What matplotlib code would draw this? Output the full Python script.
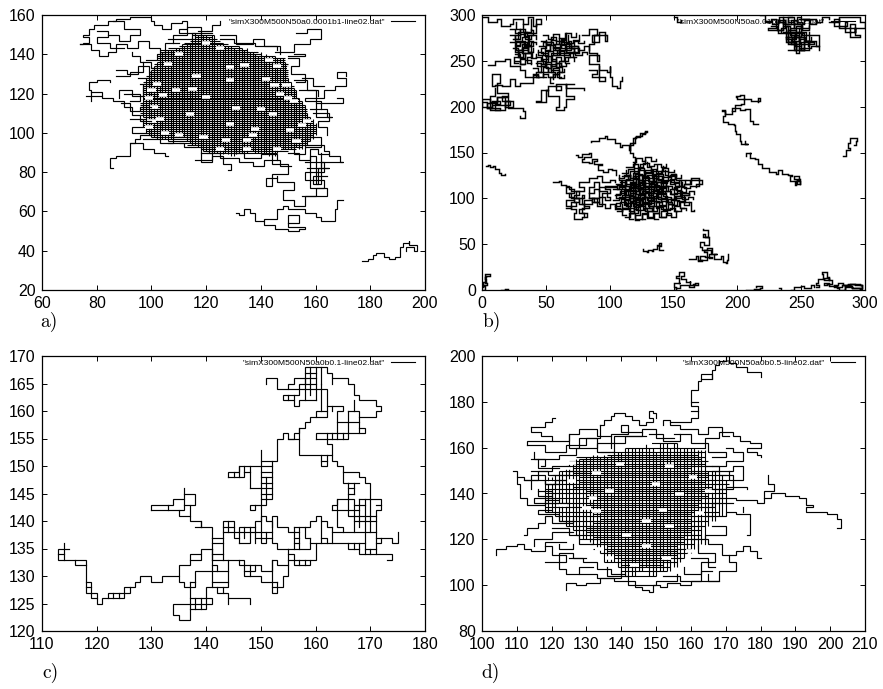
import matplotlib
matplotlib.use('Agg')
import matplotlib.pyplot as plt

plt.rcParams['font.family'] = ['Liberation Sans', 'DejaVu Sans']

# ---- panel a ----
a_label = '"simX300M500N50a0.0001b1-line02.dat"'
a_xticks = [60, 80, 100, 120, 140, 160, 180, 200]
a_yticks = [20, 40, 60, 80, 100, 120, 140, 160]
# lattice core: column x, lowest y, highest y
a_col_x = list(range(97, 161))
a_col_lo = [108, 100, 99, 98, 98, 97, 97, 97, 97, 96, 97, 98, 98, 98, 98, 98, 96, 95, 94, 94, 93, 92, 91, 91, 90, 90, 90, 90,
            89, 89, 90, 89, 88, 88, 89, 90, 90, 90, 90, 91, 91, 90, 90, 90, 90, 89, 88, 88, 88, 90, 91, 92, 92, 92, 92, 92,
            93, 92, 92, 93, 94, 96, 97, 99]
a_col_hi = [125, 128, 130, 132, 134, 136, 140, 141, 142, 142, 142, 142, 143, 143, 145, 144, 145, 146, 149, 149, 150, 150, 150,
            150, 149, 150, 150, 146, 146, 146, 144, 144, 144, 143, 142, 144, 143, 142, 143, 141, 141, 140, 139, 141, 139,
            140, 139, 139, 139, 138, 138, 138, 136, 128, 126, 123, 122, 118, 116, 114, 110, 108, 107, 105]
a_row_y = [150, 148, 146, 144, 142, 140, 138, 136, 134, 132, 130, 128, 126, 124, 122, 120, 118, 116, 114, 112, 110, 108, 106,
           104, 102, 100, 98, 96, 94, 92, 90,
           149, 147, 145, 143, 141, 139, 137, 135, 133, 131, 129, 127, 125, 123, 121, 119, 117, 115, 113, 111, 109, 107, 105,
           103, 101, 99, 97, 95, 93, 91]
a_row_lo = [115, 115, 112, 110, 103, 103, 102, 102, 101, 100, 99, 98, 97, 97, 97, 97, 97, 97, 96, 96, 96, 97, 97, 97, 98, 98,
            100, 106, 113, 118, 120,
            116, 114, 111, 106, 103, 102, 102, 101, 100, 99, 98, 98, 97, 97, 97, 97, 97, 96, 96, 96, 96, 97, 97, 97, 98, 99,
            103, 110, 116, 119]
a_row_hi = [123, 124, 126, 132, 135, 140, 149, 149, 150, 150, 150, 150, 151, 152, 153, 153, 154, 155, 156, 157, 157, 158, 159,
            160, 160, 160, 159, 158, 157, 153, 146,
            122, 125, 128, 133, 139, 145, 149, 150, 150, 150, 150, 150, 151, 152, 153, 153, 154, 155, 156, 157, 157, 158, 159,
            160, 160, 159, 158, 157, 155, 150]
a_hole_x = [116.5, 115, 128.7, 128.7, 134, 142, 145, 149.4, 131, 140, 144.5, 128.7, 137.8, 137, 134.8, 150.6, 114, 104.3, 119,
            127.4, 120, 109, 99, 101, 100, 99, 103, 105, 102, 100, 110, 125, 135, 146, 153, 155, 157, 152, 150, 147, 151, 146,
            143, 110, 106, 120, 125]
a_hole_y = [128.8, 122.5, 126.8, 133.6, 134.4, 127.6, 124.2, 124.2, 112.9, 111.9, 109.8, 104.4, 102.2, 98.8, 96.3, 101.4, 109.8,
            119.2, 98, 96.3, 118.3, 121.7, 118, 113, 106, 103, 107, 100, 125, 122, 99, 92, 92, 92, 96, 104, 106, 116, 118, 120,
            133, 134, 137, 140, 135, 146, 143]
a_paths = [
    [(177, 35), (179, 35), (179, 36), (181, 36), (181, 38), (182, 38), (182, 39), (185, 39), (185, 37), (187, 37), (187, 36),
     (189, 36), (189, 37), (191, 37), (191, 42), (192, 42), (192, 44), (194, 44), (194, 45), (194, 43), (197, 43), (197, 40),
     (196, 40), (196, 42), (193, 42), (193, 40)],
    [(131, 59), (132, 59), (132, 58), (134, 58), (134, 61), (136, 61), (136, 59), (138, 59), (138, 55), (141, 55), (141, 56),
     (146, 56), (146, 61), (148, 61), (148, 63), (150, 63), (150, 61), (156, 61), (156, 59), (160, 59), (160, 57), (162, 57),
     (162, 55), (167, 55), (167, 61), (168, 61), (168, 66), (170, 66)],
    [(141, 55), (141, 53), (145, 53), (145, 51), (150, 51), (150, 50), (154, 50), (154, 51), (156, 51), (156, 52), (150, 52),
     (150, 58), (154, 58), (154, 54), (150, 54)],
    [(74, 145), (75, 145), (75, 146), (77, 146), (77, 149), (75, 149), (75, 150), (77, 150), (77, 153), (79, 153), (79, 155),
     (84, 155), (84, 157), (87, 157), (87, 158), (92, 158), (92, 159), (100, 159), (100, 157), (101, 157), (101, 155), (104, 155),
     (104, 153), (107, 153), (107, 156), (111, 156), (111, 157), (113, 157), (113, 153), (110, 153), (110, 151), (116, 151),
     (116, 148)],
    [(74, 145), (78, 145), (78, 142), (81, 142), (81, 139), (84, 139), (84, 141), (87, 141), (87, 145), (91, 145), (91, 143),
     (95, 143), (95, 147), (99, 147), (99, 143), (103, 143), (103, 140)],
    [(84, 150), (88, 150), (88, 147), (92, 147), (92, 150), (96, 150), (96, 153), (90, 153), (90, 157), (86, 157)],
    [(80, 152), (84, 152), (84, 149), (80, 149), (80, 146), (85, 146), (85, 143), (90, 143)],
    [(93, 141), (93, 139), (96, 139), (96, 136), (100, 136), (100, 133), (102, 133)],
    [(87, 132), (91, 132), (91, 130), (95, 130), (95, 134), (99, 134), (99, 130), (103, 130)],
    [(76, 119), (78, 119), (78, 122), (77, 122), (77, 126), (80, 126), (80, 127), (85, 127), (85, 126)],
    [(78, 116), (78, 119), (82, 119), (82, 118), (86, 118), (86, 116), (90, 116), (90, 113), (93, 113), (93, 109), (96, 109),
     (96, 106), (100, 106)],
    [(78, 121), (82, 121), (82, 119)],
    [(88, 118), (88, 122), (93, 122), (93, 119), (97, 119), (97, 124)],
    [(89, 115), (92, 115), (92, 111), (96, 111), (96, 113), (100, 113)],
    [(86, 82), (85, 82), (85, 87), (87, 87), (87, 88), (92, 88), (92, 95), (94, 95), (94, 97), (96, 97), (96, 99), (100, 99)],
    [(92, 95), (97, 95), (97, 92), (101, 92), (101, 90), (105, 90), (105, 88), (106, 88)],
    [(97, 97), (103, 97), (103, 95), (108, 95), (108, 98), (112, 98)],
    [(118, 92), (118, 85), (122, 85), (122, 88), (126, 88), (126, 84), (129, 84), (129, 81), (128, 81)],
    [(122, 90), (125, 90), (125, 87), (132, 87), (132, 85), (137, 85), (137, 83), (141, 83), (141, 86), (147, 86), (147, 83),
     (151, 83)],
    [(144, 92), (144, 84), (150, 84), (150, 79), (144, 79), (144, 73), (142, 73), (142, 77), (146, 77)],
    [(146, 78), (146, 75), (152, 75), (152, 71), (148, 71), (148, 66), (152, 66), (152, 63), (156, 63), (156, 68), (160, 68),
     (160, 72), (164, 72), (164, 68), (155, 68)],
    [(156, 85), (163, 85), (163, 80), (156, 80), (156, 76), (163, 76), (163, 72), (158, 72), (158, 88), (160, 88), (160, 74),
     (162, 74), (162, 90)],
    [(157, 82), (165, 82), (161, 82), (161, 74), (159, 74), (159, 78), (164, 78)],
    [(156, 94), (163, 94), (163, 91), (165, 91), (165, 88), (169, 88), (169, 85), (170, 85), (162, 85), (162, 83)],
    [(150, 90), (154, 90), (154, 86), (158, 86), (158, 92), (161, 92), (161, 89), (165, 89)],
    [(158, 112), (164, 112), (164, 108), (166, 108), (160, 108), (160, 118), (163, 118), (163, 122), (167, 122), (167, 124),
     (171, 124), (171, 128), (168, 128), (168, 131), (171, 131), (171, 129)],
    [(160, 115), (170, 115), (170, 118), (168, 118)],
    [(152, 127), (157, 127), (157, 122), (161, 122), (161, 119)],
    [(155, 128), (159, 128), (159, 124), (163, 124)],
    [(145, 141), (152, 141), (152, 145), (158, 145), (158, 148), (162, 148), (162, 153), (157, 153), (157, 151), (153, 151)],
    [(152, 140), (156, 140), (156, 139), (150, 139)],
    [(117, 152), (122, 152), (122, 155), (125, 155), (125, 157)],
    [(108, 146), (108, 150), (113, 150), (113, 154), (118, 154), (118, 148)],
    [(125, 150), (131, 150), (131, 145), (137, 145), (137, 148), (141, 148), (141, 144), (147, 144), (147, 140)],
    [(87, 129), (92, 129), (92, 131), (97, 131), (97, 136)],
    [(95, 128), (100, 128), (100, 125), (96, 125)],
    [(90, 120), (96, 120), (96, 116), (92, 116)],
    [(92, 107), (97, 107), (97, 103), (93, 103), (93, 100), (98, 100)],
    [(98, 137), (102, 137), (102, 140), (105, 140), (105, 146), (110, 146)],
    [(106, 148), (115, 148), (115, 151), (122, 151)],
    [(125, 148), (130, 148), (130, 146), (138, 146), (138, 144), (146, 144), (146, 142)],
    [(150, 138), (154, 138), (154, 134), (151, 134), (151, 130), (156, 130), (156, 126), (153, 126)],
    [(154, 122), (160, 122), (160, 118), (156, 118), (156, 116), (162, 116), (162, 112)],
    [(159, 110), (165, 110), (165, 106), (161, 106), (161, 103), (164, 103), (164, 99)],
    [(156, 98), (162, 98), (162, 93), (156, 93), (156, 89), (152, 89), (152, 92)],
    [(118, 90), (122, 90), (122, 86), (116, 86)],
    [(130, 90), (134, 90), (134, 87), (140, 87), (140, 89), (146, 89), (146, 86)],
    [(106, 95), (112, 95), (112, 93), (116, 93)],
]

# ---- panel b ----
b_label = '"simX300M500N50a0.01b0-line02.dat"'
b_xticks = [0, 50, 100, 150, 200, 250, 300]
b_yticks = [0, 50, 100, 150, 200, 250, 300]
b_paths = [
    [(3, 135), (5, 136), (6, 134), (9, 135), (10, 132), (13, 132), (13, 128), (15, 128), (15, 125), (18, 125), (18, 127)],
    [(126, 45), (126, 43), (129, 42), (130, 44), (133, 43), (134, 45), (137, 45), (137, 49), (139, 48), (139, 51), (140, 48),
     (139, 44), (142, 44)],
    [(162, 34), (168, 37), (169, 32), (172, 33), (171, 37), (175, 36), (176, 41), (174, 44), (179, 39), (180, 46), (176, 44),
     (172, 47), (171, 52), (174, 49), (178, 52), (178, 58), (173, 61), (175, 58), (177, 65), (173, 67)],
    [(169, 33), (176, 36), (180, 35), (178, 39), (184, 39), (182, 34), (187, 37), (189, 31), (191, 30), (192, 33), (193, 39)],
    [(150, 0), (152, 3), (150, 8), (155, 8), (154, 13), (152, 15), (154, 20), (157, 20), (158, 15), (156, 12), (160, 9), (163, 10),
     (163, 5), (165, 7), (167, 8), (169, 6), (166, 3), (162, 5), (158, 5), (155, 2), (152, 2)],
    [(0, 0), (2, 4), (1, 9), (3, 12), (2, 17), (5, 18), (6, 15), (3, 14), (2, 8), (4, 5), (1, 3)],
    [(15, 0), (18, 1), (20, 0)],
    [(207, 0), (213, 1), (218, 2), (219, 4), (215, 3)],
    [(233, 2), (234, 0)],
    [(242, 0), (244, 3), (250, 4), (252, 2), (258, 5), (260, 3)],
    [(262, 3), (264, 5), (262, 8), (263, 12), (268, 11), (272, 14), (270, 20), (266, 17), (267, 13), (272, 11), (274, 7), (270, 6),
     (268, 8), (272, 4), (278, 2), (280, 0), (284, 3), (290, 2), (296, 1), (298, 6), (292, 7), (287, 6), (283, 8), (279, 6),
     (276, 3), (282, 5), (288, 7), (296, 5), (298, 2), (290, 4), (284, 0)],
    [(216, 181), (212, 184), (210, 190), (210, 197), (206, 196), (202, 199), (199, 198), (196, 192), (190, 192), (190, 196),
     (188, 195), (190, 190), (189, 183), (193, 181), (197, 180), (198, 174), (199, 170), (202, 168), (202, 163), (203, 159),
     (208, 159), (206, 163)],
    [(196, 195), (198, 202), (203, 203), (205, 208), (200, 210), (199, 212), (202, 213), (205, 208), (211, 206), (216, 206),
     (218, 209), (216, 205)],
    [(207, 146), (207, 150), (211, 150), (210, 144), (214, 143), (216, 137), (219, 133), (223, 133), (225, 129), (230, 127),
     (232, 131), (235, 127), (240, 126), (243, 124), (241, 119), (245, 115), (246, 119), (249, 116), (247, 120), (248, 124),
     (244, 121), (249, 116)],
    [(283, 146), (285, 149), (285, 153), (288, 155), (287, 160), (288, 166), (292, 166), (294, 163), (293, 158), (291, 158)],
    # centre cluster wisps
    [(85, 161), (85, 163), (90, 163), (92, 166), (96, 168), (98, 165), (101, 165), (104, 160), (108, 156), (110, 158), (115, 153),
     (116, 160), (120, 162), (120, 167), (123, 167), (124, 171), (128, 172), (129, 174), (128, 170), (125, 168), (121, 166),
     (118, 158), (116, 150), (118, 145), (120, 138)],
    [(74, 147), (75, 145), (78, 148), (84, 149), (85, 145), (80, 143), (78, 140), (84, 139), (86, 143), (90, 141), (88, 137),
     (94, 136), (91, 131), (95, 129), (99, 132), (102, 131), (105, 126)],
    [(56, 118), (60, 119), (62, 115), (66, 114), (68, 110), (72, 106), (68, 102), (72, 98), (66, 92), (70, 88), (74, 84), (72, 78),
     (78, 80), (82, 84), (78, 90), (84, 92), (80, 98), (86, 96), (92, 94), (96, 90), (100, 94), (104, 88), (110, 86)],
    [(66, 90), (70, 96), (76, 100), (74, 108), (80, 112), (76, 118), (84, 122), (90, 124), (94, 118), (100, 120), (104, 118)],
    [(74, 100), (80, 104), (78, 94), (86, 100), (90, 92), (94, 106), (100, 110), (96, 114), (106, 112), (92, 100), (84, 106)],
    [(70, 92), (74, 96), (72, 104), (76, 108), (70, 112), (66, 106), (70, 100), (76, 94), (80, 88), (76, 84), (80, 80)],
    [(84, 100), (88, 96), (92, 102), (96, 98), (100, 102), (98, 108), (92, 110), (88, 106), (84, 112), (88, 118), (92, 114)],
    [(160, 120), (164, 122), (170, 120), (172, 116), (168, 114), (170, 120), (164, 116), (158, 114), (156, 106), (162, 104),
     (158, 96), (164, 92), (164, 86), (166, 87)],
    # centre cluster mesh, rows
    [(112, 80), (116, 84), (120, 78), (125, 83), (129, 79), (134, 84), (139, 80), (144, 84), (148, 80), (152, 85)],
    [(106, 86), (110, 90), (115, 86), (119, 91), (124, 87), (128, 90), (133, 86), (137, 91), (142, 87), (147, 90), (151, 86),
     (156, 90), (160, 87)],
    [(104, 92), (108, 96), (113, 92), (117, 97), (121, 93), (126, 96), (130, 92), (135, 97), (139, 93), (144, 96), (149, 93),
     (153, 97), (158, 93), (162, 96)],
    [(103, 98), (107, 102), (112, 98), (116, 103), (120, 99), (125, 102), (129, 98), (134, 103), (138, 99), (143, 102), (148, 98),
     (152, 103), (157, 99), (161, 102), (165, 99)],
    [(104, 104), (108, 108), (112, 104), (116, 109), (121, 105), (125, 108), (130, 104), (134, 109), (139, 105), (143, 108),
     (148, 105), (153, 108), (157, 104), (162, 108), (166, 105)],
    [(103, 110), (107, 114), (112, 110), (117, 115), (121, 111), (126, 114), (130, 110), (135, 115), (139, 111), (144, 114),
     (149, 110), (153, 114), (158, 111), (163, 114), (168, 112)],
    [(105, 116), (109, 120), (113, 116), (118, 121), (122, 117), (127, 120), (131, 116), (136, 121), (140, 117), (145, 120),
     (150, 117), (154, 120), (159, 116), (163, 119)],
    [(107, 122), (111, 126), (116, 122), (120, 127), (125, 123), (129, 126), (133, 122), (138, 127), (142, 123), (147, 126),
     (151, 122), (156, 125)],
    [(110, 128), (114, 132), (119, 128), (123, 133), (127, 129), (132, 132), (136, 128), (141, 133), (146, 129), (150, 131)],
    [(113, 134), (118, 138), (122, 134), (126, 139), (131, 135), (135, 138), (140, 134), (144, 137)],
    [(118, 140), (121, 144), (125, 141), (128, 145), (132, 141), (136, 143)],
    # centre cluster mesh, columns
    [(108, 90), (105, 95), (109, 100), (105, 105), (109, 110), (106, 115), (110, 120), (107, 125)],
    [(113, 82), (110, 88), (114, 93), (111, 98), (115, 104), (111, 109), (115, 114), (112, 120), (116, 125), (113, 131)],
    [(118, 78), (115, 84), (119, 89), (116, 95), (120, 100), (116, 106), (120, 111), (117, 117), (121, 122), (118, 128), (122, 133),
     (119, 139)],
    [(123, 76), (120, 82), (124, 87), (121, 93), (125, 98), (122, 104), (126, 110), (122, 115), (126, 120), (123, 126), (127, 131),
     (124, 137), (128, 142)],
    [(128, 78), (125, 84), (129, 90), (126, 95), (130, 101), (127, 106), (131, 112), (127, 117), (131, 123), (128, 128), (132, 134),
     (129, 140)],
    [(133, 80), (130, 86), (134, 92), (131, 97), (135, 102), (132, 108), (136, 114), (132, 119), (136, 125), (133, 130), (137, 136)],
    [(138, 78), (135, 84), (139, 90), (136, 96), (140, 101), (137, 107), (141, 112), (137, 118), (141, 124), (138, 130), (142, 135)],
    [(143, 80), (140, 86), (144, 92), (141, 97), (145, 103), (142, 108), (146, 114), (142, 119), (146, 125), (143, 131)],
    [(148, 82), (145, 88), (149, 94), (146, 99), (150, 105), (147, 110), (151, 116), (147, 121), (151, 127)],
    [(153, 86), (150, 92), (154, 98), (151, 103), (155, 109), (152, 114), (156, 120), (152, 125)],
    [(158, 90), (155, 96), (159, 102), (156, 107), (160, 112), (157, 118)],
    # denser middle of the centre cluster
    [(108, 100), (112, 95), (116, 100), (120, 96), (124, 100), (128, 95), (132, 100), (136, 96), (140, 100), (144, 96), (148, 100)],
    [(108, 106), (112, 102), (116, 106), (120, 102), (124, 106), (128, 101), (132, 106), (136, 102), (140, 106), (144, 102)],
    [(108, 112), (112, 108), (116, 112), (120, 108), (124, 112), (128, 107), (132, 112), (136, 108), (140, 112), (144, 108)],
    [(108, 118), (112, 114), (116, 118), (120, 114), (124, 118), (128, 113), (132, 118), (136, 114), (140, 118), (144, 114)],
    [(110, 124), (114, 120), (118, 124), (122, 120), (126, 124), (130, 119), (134, 124), (138, 120), (142, 124)],
    [(112, 94), (114, 99), (110, 104), (113, 110), (110, 115), (113, 121), (116, 126)],
    [(122, 88), (119, 94), (123, 100), (120, 105), (123, 111), (119, 116), (123, 122), (120, 128)],
    [(126, 88), (128, 94), (124, 99), (128, 105), (124, 110), (128, 116), (125, 122), (128, 128)],
    [(134, 90), (131, 95), (135, 100), (131, 106), (135, 112), (131, 117), (135, 123)],
    [(120, 92), (118, 98), (122, 102), (118, 108), (122, 113), (118, 118), (121, 124)],
    [(112, 124), (116, 130), (122, 126), (128, 131), (134, 127), (140, 130), (146, 124), (152, 127), (148, 118), (154, 112),
     (150, 106), (156, 100), (150, 94), (146, 88), (140, 92), (134, 86), (128, 92), (122, 84), (116, 90), (110, 94)],
    [(116, 96), (118, 104), (114, 108), (118, 114), (124, 110), (130, 114), (136, 110), (142, 106), (138, 100), (132, 94),
     (126, 98), (120, 94), (124, 104), (128, 110), (122, 118), (128, 122), (134, 118), (140, 114), (144, 120), (138, 124)],
    # upper left clusters, rows then columns
    [(48, 278), (52, 274), (56, 279), (60, 275), (65, 280), (70, 276), (74, 280)],
    [(46, 272), (50, 268), (54, 273), (58, 268), (62, 273), (66, 269), (71, 273), (75, 269), (80, 272)],
    [(45, 266), (49, 262), (53, 267), (57, 262), (61, 267), (66, 262), (70, 266), (75, 262), (80, 266), (84, 262)],
    [(44, 260), (48, 256), (52, 261), (56, 256), (60, 261), (64, 256), (68, 260), (73, 256), (78, 260), (82, 257)],
    [(42, 254), (46, 250), (50, 255), (54, 250), (58, 254), (62, 250), (67, 254), (72, 250)],
    [(42, 248), (46, 244), (50, 249), (54, 244), (58, 248), (62, 244), (66, 247)],
    [(40, 242), (44, 238), (48, 243), (52, 238), (56, 242), (60, 238), (64, 241)],
    [(40, 236), (44, 232), (48, 236), (52, 232), (56, 236), (60, 231), (64, 234)],
    [(50, 232), (48, 238), (52, 243), (49, 249), (52, 255), (49, 261), (53, 267), (50, 273)],
    [(56, 226), (53, 232), (57, 238), (54, 244), (58, 250), (55, 256), (59, 262), (56, 268), (60, 275)],
    [(62, 232), (59, 238), (63, 244), (60, 250), (64, 256), (61, 262), (65, 268), (62, 274), (66, 280)],
    [(68, 248), (65, 254), (69, 260), (66, 266), (70, 272), (67, 278)],
    [(74, 254), (71, 260), (75, 266), (72, 272), (76, 278)],
    [(45, 232), (42, 238), (46, 244), (43, 250), (47, 256), (44, 262)],
    [(46, 246), (50, 242), (54, 247), (58, 243), (62, 248), (58, 252), (54, 258), (60, 264), (66, 258), (72, 264), (68, 270),
     (62, 265), (56, 270), (50, 264), (46, 258), (52, 252), (48, 246), (54, 240), (60, 236), (56, 230)],
    [(56, 264), (60, 258), (66, 264), (72, 258), (76, 264), (70, 268), (64, 272), (58, 276), (54, 270), (48, 266)],
    [(22, 285), (26, 280), (30, 285), (34, 281), (38, 285)],
    [(22, 278), (26, 274), (30, 279), (34, 274), (38, 278), (42, 274)],
    [(22, 271), (26, 267), (30, 272), (34, 267), (38, 271), (42, 268)],
    [(24, 264), (28, 260), (32, 265), (36, 260), (40, 264)],
    [(26, 257), (30, 253), (34, 258), (38, 253), (42, 257)],
    [(26, 250), (30, 247), (34, 251), (38, 246)],
    [(28, 248), (25, 254), (29, 260), (26, 266), (30, 272), (26, 278), (30, 285), (27, 292)],
    [(33, 246), (30, 252), (34, 258), (31, 264), (35, 270), (31, 276), (35, 282), (32, 290)],
    [(38, 248), (35, 254), (39, 260), (36, 266), (40, 272), (36, 278), (40, 284), (38, 296)],
    [(24, 274), (28, 282), (33, 277), (37, 268), (31, 262), (27, 270), (33, 266), (38, 258), (32, 254), (28, 262), (36, 274)],
    [(0, 298), (5, 292), (12, 296), (15, 288), (22, 290), (24, 296), (32, 290), (36, 298), (40, 288), (42, 296), (46, 290),
     (42, 280), (34, 280)],
    [(78, 278), (84, 285), (90, 278), (86, 270), (92, 282), (96, 272), (98, 278), (88, 268), (84, 258), (90, 250), (92, 256),
     (84, 246), (92, 240), (98, 238), (100, 244), (100, 232), (102, 222), (106, 220), (108, 228), (110, 232)],
    [(84, 240), (90, 236), (86, 232), (92, 228), (96, 232), (92, 244)],
    [(72, 225), (66, 212), (72, 208), (66, 200), (64, 196), (58, 200), (60, 212), (52, 218), (50, 205), (42, 206), (46, 218),
     (52, 222), (62, 218), (58, 225), (66, 220), (80, 218)],
    [(5, 245), (10, 250), (18, 252), (22, 244), (30, 240), (34, 232), (44, 234), (40, 226), (30, 222), (26, 230), (22, 222),
     (16, 224), (10, 222), (8, 236), (12, 236), (14, 226), (12, 215), (20, 212), (16, 206), (22, 202), (8, 200), (0, 208), (6, 196),
     (14, 198), (4, 204), (12, 210), (20, 198), (28, 198), (32, 195), (34, 188), (30, 190)],
    [(0, 205), (4, 198), (8, 206), (14, 203), (10, 196), (18, 206), (24, 200), (18, 210), (12, 205), (6, 212), (10, 220)],
    # top right cluster
    [(150, 298), (153, 292), (156, 295)],
    [(218, 300), (222, 292), (226, 296), (230, 286), (224, 284), (236, 292), (232, 280), (240, 288), (238, 274), (246, 284),
     (240, 268), (248, 278), (244, 262), (252, 272), (256, 262), (250, 268), (260, 270), (256, 278), (264, 266), (262, 272),
     (254, 282), (242, 276), (250, 290), (236, 298), (244, 286), (256, 296), (248, 296), (262, 292), (266, 298), (272, 296)],
    [(240, 262), (246, 270), (240, 280), (248, 262), (252, 276), (238, 270), (246, 258), (248, 264), (258, 266), (264, 262)],
    [(272, 292), (280, 296), (276, 288), (286, 292), (284, 282), (292, 290), (288, 276), (296, 278), (292, 286), (300, 292),
     (296, 298), (288, 298), (280, 286), (292, 282)],
    [(222, 294), (227, 290), (232, 295), (237, 290), (242, 295), (247, 290), (252, 295), (257, 290), (262, 295)],
    [(226, 288), (231, 284), (236, 288), (241, 284), (246, 288), (251, 284), (256, 288)],
    [(236, 282), (241, 278), (246, 282), (251, 278), (256, 282)],
    [(238, 276), (243, 272), (248, 276), (253, 272), (258, 276)],
    [(240, 270), (245, 266), (250, 270), (255, 266)],
    [(243, 298), (240, 292), (244, 286), (241, 280), (245, 274), (242, 268), (246, 262)],
    [(250, 298), (247, 292), (251, 286), (248, 280), (252, 274), (249, 268)],
    [(236, 298), (233, 292), (237, 286), (234, 282)],
]

# ---- panel c ----
c_label = '"simX300M500N50a0b0.1-line02.dat"'
c_xticks = [110, 120, 130, 140, 150, 160, 170, 180]
c_yticks = [120, 125, 130, 135, 140, 145, 150, 155, 160, 165, 170]
c_paths = [
    [(115, 135), (113, 135), (113, 133), (118, 133), (118, 127), (119, 127), (119, 126), (120, 126), (120, 125), (121, 125),
     (121, 126), (125, 126), (125, 128), (127, 128), (127, 129), (128, 129), (128, 130), (130, 130), (130, 129), (132, 129),
     (132, 130), (135, 130), (135, 132), (137, 132), (137, 134), (139, 134), (139, 135), (141, 135)],
    [(114, 136), (114, 133)], [(113, 134), (114, 134)], [(116, 133), (116, 132), (118, 132)],
    [(118, 129), (119, 129), (119, 127)], [(118, 128), (119, 128)], [(119, 127), (120, 127), (120, 126)],
    [(122, 126), (122, 127), (126, 127), (126, 128)], [(123, 126), (123, 127)], [(124, 126), (124, 127)],
    [(135, 130), (135, 129), (136, 129), (136, 128), (138, 128), (138, 131), (144, 131)],
    [(137, 129), (138, 129)],
    [(137, 129), (137, 122), (135, 122), (135, 123), (134, 123), (134, 125), (141, 125), (141, 126), (140, 126), (140, 128),
     (141, 128)],
    [(137, 124), (140, 124), (140, 126)], [(137, 126), (140, 126)], [(138, 124), (138, 126)], [(139, 124), (139, 126)],
    [(141, 137), (141, 128), (143, 128), (143, 127), (144, 127), (144, 126), (148, 126), (148, 125)],
    [(144, 126), (144, 125)], [(142, 128), (142, 127), (143, 127)],
    [(143, 128), (144, 128), (144, 133)], [(141, 129), (144, 129)], [(142, 131), (142, 132), (141, 132)],
    [(141, 137), (143, 137)], [(141, 136), (143, 136)], [(141, 134), (143, 134)], [(141, 133), (147, 133), (147, 130), (150, 130),
     (150, 129), (153, 129)],
    [(143, 133), (143, 140), (145, 140), (145, 137), (146, 137)], [(144, 138), (144, 140)], [(143, 139), (145, 139)],
    [(143, 138), (149, 138)], [(146, 136), (146, 139), (149, 139)], [(146, 136), (148, 136), (148, 139)], [(147, 137), (147, 139)],
    [(146, 133), (146, 132), (150, 132), (150, 131), (152, 131), (152, 133), (153, 133), (153, 132), (155, 132)],
    [(147, 131), (149, 131), (149, 132)], [(148, 130), (148, 132)],
    [(152, 133), (152, 127), (153, 127), (153, 129)], [(152, 128), (154, 128), (154, 130), (155, 130), (155, 135)],
    [(155, 134), (156, 134), (156, 132), (159, 132), (159, 133), (160, 133), (160, 136), (169, 136)],
    [(155, 133), (159, 133)], [(157, 132), (157, 133)], [(158, 132), (158, 133)],
    # upper arm
    [(150, 137), (150, 153)], [(150, 151), (153, 151), (153, 155), (154, 155), (154, 156), (155, 156), (155, 155), (156, 155),
     (156, 156), (157, 156), (157, 157), (158, 157), (158, 158), (159, 158), (159, 159), (160, 159), (160, 160), (162, 160),
     (162, 159), (160, 159)],
    [(155, 155), (157, 155)], [(157, 157), (157, 152), (163, 152), (163, 154), (162, 154), (162, 155)],
    [(152, 151), (152, 144), (151, 144), (151, 143), (148, 143), (148, 142), (149, 142), (149, 143)],
    [(150, 150), (152, 150)], [(150, 149), (152, 149)], [(150, 148), (152, 148)], [(150, 147), (152, 147)], [(150, 146), (152, 146)],
    [(150, 145), (152, 145)], [(150, 144), (151, 144)], [(151, 144), (151, 148)],
    [(144, 148), (147, 148), (147, 150)], [(144, 148), (144, 149), (146, 149), (146, 150), (150, 150)], [(145, 148), (145, 149)],
    [(146, 148), (146, 150)], [(148, 146), (148, 150)], [(147, 149), (148, 149)], [(148, 146), (150, 146)],
    # top
    [(151, 165), (151, 166), (153, 166), (153, 164), (155, 164), (155, 165), (156, 165), (156, 166), (158, 166), (158, 165),
     (157, 165), (157, 163), (155, 163), (154, 163), (154, 162), (156, 162), (156, 161), (157, 161), (157, 162), (160, 162)],
    [(155, 164), (162, 164), (162, 160)], [(155, 162), (155, 163)], [(156, 162), (156, 163)], [(158, 162), (158, 168), (162, 168),
     (162, 167), (163, 167), (163, 166), (166, 166), (166, 165), (167, 165), (167, 163), (168, 163), (168, 162), (171, 162),
     (171, 161), (172, 161), (172, 160), (171, 160), (171, 159), (168, 159)],
    [(159, 163), (159, 168)], [(160, 162), (160, 168)], [(158, 167), (160, 167)], [(158, 166), (160, 166)], [(158, 165), (160, 165)],
    [(161, 165), (161, 168)], [(161, 160), (161, 161), (161, 165)], [(163, 166), (163, 165)],
    [(162, 161), (165, 161), (165, 160), (164, 160), (164, 156)], [(163, 160), (163, 161)],
    [(166, 160), (168, 160), (168, 156), (166, 156), (166, 160)], [(164, 158), (168, 158)], [(168, 157), (169, 157), (169, 156),
     (168, 156)], [(167, 162), (167, 160)],
    [(160, 155), (160, 156), (166, 156)], [(160, 155), (166, 155), (166, 156)], [(162, 155), (162, 156)], [(163, 155), (163, 156)],
    [(164, 155), (164, 156)], [(165, 155), (165, 156)],
    [(161, 152), (161, 150), (162, 150), (162, 152)], [(161, 151), (162, 151)],
    [(163, 152), (163, 151), (164, 151), (164, 150), (165, 150), (165, 147), (166, 147)],
    [(165, 149), (168, 149), (168, 148), (169, 148), (169, 147), (170, 147), (170, 144)],
    [(166, 147), (168, 147)], [(166, 147), (166, 144)], [(167, 147), (167, 145)], [(166, 146), (167, 146)], [(166, 145), (167, 145)],
    # lower right block
    [(163, 142), (163, 143), (164, 143), (164, 144), (167, 144), (167, 138)], [(163, 142), (168, 142)], [(164, 144), (164, 139),
     (165, 139), (165, 138)], [(166, 144), (166, 141), (167, 141)], [(168, 144), (172, 144), (172, 142), (171, 142), (171, 134)],
    [(168, 144), (168, 139)], [(169, 144), (169, 134)], [(170, 144), (170, 141)], [(167, 143), (169, 143)], [(167, 141), (171, 141)],
    [(167, 140), (171, 140)], [(171, 143), (172, 143)], [(163, 138), (171, 138)], [(170, 141), (170, 138)], [(163, 139), (163, 136)],
    [(168, 136), (168, 134), (174, 134), (174, 133), (173, 133)], [(166, 136), (166, 135), (168, 135)], [(167, 136), (167, 135)],
    [(169, 135), (171, 135)], [(170, 134), (170, 135)], [(171, 137), (174, 137), (174, 136), (175, 136), (175, 138)],
    [(171, 136), (172, 136), (172, 137)],
    # middle row
    [(157, 139), (159, 139), (159, 140), (160, 140), (160, 141), (161, 141), (161, 140), (162, 140), (162, 139), (163, 139)],
    [(156, 139), (157, 139), (157, 135)], [(156, 139), (156, 135)], [(156, 138), (157, 138)], [(156, 137), (157, 137)],
    [(156, 136), (157, 136)], [(155, 135), (159, 135), (159, 137)], [(159, 136), (160, 136)], [(158, 139), (158, 137), (159, 137)],
    [(161, 140), (161, 136)], [(161, 137), (162, 137), (162, 136)],
    [(149, 138), (149, 140), (150, 140), (150, 141), (151, 141), (151, 140), (152, 140), (152, 136), (153, 136), (153, 135),
     (155, 135)],
    [(152, 139), (152, 141), (153, 141), (153, 139), (155, 139), (155, 138), (156, 138)],
    [(149, 136), (149, 138)], [(149, 137), (152, 137)], [(150, 137), (150, 136), (151, 136), (151, 138)], [(149, 138), (152, 138)],
    # left arm
    [(130, 142), (130, 143), (134, 143), (134, 144), (136, 144), (136, 146)], [(130, 142), (135, 142), (135, 141), (137, 141),
     (137, 140), (139, 140), (139, 139), (141, 139), (141, 137)],
    [(133, 142), (133, 143)], [(136, 144), (136, 142), (135, 142)], [(136, 145), (138, 145), (138, 143), (137, 143), (137, 141)],
    [(136, 143), (137, 143)], [(139, 140), (139, 139)], [(138, 139), (139, 139)],
    [(141, 135), (141, 133)], [(137, 133), (139, 133), (139, 134)],
]

# ---- panel d ----
d_label = '"simX300M500N50a0b0.5-line02.dat"'
d_xticks = [100, 110, 120, 130, 140, 150, 160, 170, 180, 190, 200, 210]
d_yticks = [80, 100, 120, 140, 160, 180, 200]
d_col_x = list(range(118, 171))
d_col_lo = [132, 132, 132, 130, 128, 128, 126, 126, 124, 122, 120, 120, 120, 119, 118, 116, 114, 110, 110, 110, 110, 108, 106,
            104, 104, 104, 104, 106, 106, 108, 104, 104, 104, 106, 106, 106, 106, 108, 108, 110, 112, 114, 114, 116, 116, 118,
            120, 126, 128, 128, 130, 130, 132]
d_col_hi = [146, 147, 147, 148, 150, 150, 152, 153, 153, 155, 155, 155, 156, 156, 157, 157, 156, 157, 156, 157, 158, 158, 158,
            160, 160, 160, 160, 160, 160, 162, 160, 160, 158, 162, 162, 162, 160, 162, 162, 160, 160, 160, 160, 160, 159, 159,
            159, 150, 150, 150, 148, 148, 146]
d_row_y = [162, 160, 158, 156, 154, 152, 150, 148, 146, 144, 142, 140, 138, 136, 134, 132, 130, 128, 126, 124, 122, 120, 118,
           116, 114, 112, 110, 108, 106, 104,
           157, 155, 153, 151, 149, 147, 145, 143, 141, 139, 137, 135, 133, 131, 129, 127, 125, 123, 121, 119, 117, 115, 113,
           111, 109]
d_row_lo = [147, 141, 134, 127, 125, 124, 122, 120, 118, 118, 118, 118, 118, 118, 118, 118, 121, 122, 124, 126, 127, 128, 131,
            132, 134, 135, 135, 139, 140, 141,
            136, 128, 126, 126, 126, 128, 128, 126, 130, 130, 132, 130, 132, 132, 134, 132, 130, 130, 132, 134, 136, 136, 138,
            140, 140]
d_row_hi = [156, 164, 164, 164, 165, 166, 168, 170, 171, 171, 170, 170, 169, 168, 167, 168, 166, 165, 164, 163, 163, 162, 161,
            160, 159, 158, 156, 154, 153, 150,
            162, 163, 164, 160, 165, 165, 164, 166, 165, 165, 163, 162, 162, 160, 160, 160, 160, 160, 158, 158, 156, 156, 156,
            154, 152]
d_hole_x = [125.7, 131.9, 132.9, 130, 125.7, 132.9, 139.6, 153.9, 147.7, 136.7, 152, 156.8, 147.2, 141.5, 153.9, 128, 147.2,
            136.7, 153, 143.9, 159.7, 162.5, 165.4, 160.6, 150, 133.8, 124, 119.4, 123.3, 121.4]
d_hole_y = [153.5, 138.2, 132.4, 133.8, 145.5, 149, 152.7, 152, 162.2, 141, 133, 139.6, 128, 122, 125.8, 117.8, 117, 112, 112,
            109, 115, 131.6, 141, 147, 144, 116, 151, 144.7, 135, 123.6]
d_paths = [
    [(114, 169), (118, 169), (118, 171), (120, 171), (120, 173), (121, 173)],
    [(114, 169), (114, 167), (117, 167), (117, 165), (120, 165), (120, 163), (125, 163), (125, 166), (128, 166), (128, 168),
     (133, 168), (133, 165), (137, 165)],
    [(113, 161), (113, 163), (120, 163)],
    [(113, 161), (118, 161), (118, 158), (124, 158), (124, 161), (130, 161), (130, 164), (134, 164), (134, 170)],
    [(134, 170), (135, 170), (135, 172), (137, 172), (137, 174), (138, 174), (138, 175), (141, 175), (141, 174), (143, 174),
     (143, 172), (145, 172), (145, 170), (147, 170), (147, 171), (149, 171), (149, 173), (148, 173), (148, 176), (149, 176),
     (149, 175), (150, 175), (150, 173)],
    [(115, 158), (115, 155), (118, 155), (118, 152), (117, 152)],
    [(109, 150), (110, 150), (110, 147), (112, 147), (112, 146), (116, 146), (116, 150), (120, 150), (120, 152), (125, 152)],
    [(110, 147), (110, 144), (111, 144), (111, 138), (113, 138), (113, 135), (118, 135), (118, 137), (122, 137)],
    [(114, 142), (114, 148), (118, 148), (118, 144), (122, 144)],
    [(104, 113), (104, 116), (107, 116), (107, 117), (110, 117), (110, 118), (112, 118), (112, 116), (114, 116), (114, 115),
     (118, 115), (118, 119), (124, 119)],
    [(112, 122), (113, 122), (113, 125), (116, 125), (116, 127), (118, 127), (118, 130), (120, 130), (120, 127), (126, 127),
     (126, 129)],
    [(115, 117), (115, 120), (120, 120), (120, 123), (126, 123)],
    [(118, 117), (120, 117), (120, 113), (124, 113), (124, 110), (122, 110), (122, 107), (124, 107), (124, 105), (128, 105),
     (128, 108), (132, 108)],
    [(124, 98), (124, 101), (127, 101), (127, 100), (130, 100), (130, 101), (134, 101), (134, 103), (138, 103), (138, 102),
     (144, 102), (144, 99), (146, 99), (146, 98), (148, 98), (148, 97), (149, 97), (149, 100), (151, 100), (151, 99), (153, 99),
     (153, 101), (157, 101), (157, 100), (160, 100), (160, 102), (168, 102)],
    [(128, 105), (133, 105), (133, 103), (140, 103), (140, 106)],
    [(152, 104), (157, 104), (157, 102), (163, 102), (163, 106), (166, 106)],
    [(160, 120), (165, 120), (165, 118), (169, 118), (169, 113), (173, 113), (173, 115), (175, 115), (175, 117), (177, 117),
     (177, 115), (179, 115), (179, 112), (180, 112)],
    [(171, 113), (171, 110), (173, 110), (173, 106), (168, 106), (168, 102), (165, 102), (165, 105)],
    [(160, 112), (165, 112), (165, 108), (167, 108)],
    [(164, 130), (170, 130), (170, 132), (173, 132), (173, 131), (177, 131), (177, 122), (176, 122)],
    [(175, 132), (175, 134)],
    [(166, 150), (172, 150), (172, 152), (175, 152), (175, 146), (171, 146), (171, 150)],
    [(170, 143), (176, 143), (176, 142)],
    [(168, 138), (173, 138), (173, 137), (179, 137), (179, 136), (181, 136), (181, 141), (184, 141), (184, 144), (182, 144),
     (182, 148)],
    [(181, 138), (183, 138), (183, 140), (187, 140), (187, 139), (191, 139), (191, 138), (193, 138), (193, 135), (195, 135),
     (195, 134), (193, 134), (193, 132), (199, 132), (199, 131), (202, 131), (202, 129), (203, 129), (203, 125), (202, 125)],
    [(164, 160), (164, 164), (168, 164), (168, 167), (172, 167), (172, 165), (174, 165), (174, 163), (177, 163), (177, 162),
     (180, 162), (180, 160), (176, 160), (176, 158), (179, 158), (179, 157), (180, 157), (180, 156)],
    [(170, 160), (172, 160), (172, 158), (175, 158), (175, 154), (170, 154), (170, 152), (166, 152)],
    [(152, 170), (152, 172), (154, 172), (154, 170), (157, 170), (157, 168), (162, 168), (162, 166), (165, 166), (165, 169),
     (169, 169), (169, 165), (171, 165)],
    [(154, 171), (160, 171), (160, 173), (162, 173), (162, 178), (160, 178), (160, 180), (162, 180)],
    [(160, 176), (162, 176)],
    [(160, 180), (160, 185), (162, 185), (162, 189), (163, 189), (163, 192), (166, 192), (166, 190), (166, 194), (167, 194),
     (167, 196), (168, 196), (168, 198), (170, 198), (170, 200), (171, 200), (171, 197), (173, 197), (173, 195), (176, 195),
     (176, 193), (180, 193), (180, 191)],
    [(163, 190), (166, 190)],
    [(125, 166), (125, 160), (128, 160), (128, 164), (133, 164), (133, 158), (138, 158), (138, 165), (146, 165), (146, 168),
     (150, 168), (150, 164), (155, 164)],
    [(114, 155), (116, 155), (116, 151), (122, 151)],
    [(116, 142), (116, 139), (120, 139)],
    [(118, 110), (122, 110), (122, 114), (126, 114), (126, 112), (130, 112)],
    [(114, 150), (119, 150), (119, 148), (125, 148), (125, 150), (130, 150)],
    [(112, 146), (118, 146), (118, 144), (121, 144), (121, 146), (124, 146)],
    [(116, 141), (120, 141), (120, 138), (115, 138), (115, 136), (125, 136)],
    [(116, 155), (122, 155), (122, 157), (127, 157), (127, 160), (133, 160), (133, 162), (141, 162), (141, 165), (147, 165)],
    [(120, 133), (116, 133), (116, 131), (122, 131), (122, 128), (126, 128)],
    [(120, 125), (125, 125), (125, 122), (128, 122), (128, 118), (132, 118)],
    [(122, 118), (122, 116), (126, 116), (126, 118)],
    [(125, 112), (129, 112), (129, 110), (133, 110), (133, 107), (137, 107), (137, 105), (141, 105)],
    [(136, 108), (136, 104), (142, 104), (142, 100), (150, 100), (150, 102), (156, 102), (156, 105)],
    [(158, 108), (158, 105), (163, 105), (163, 110), (167, 110), (167, 114), (162, 114), (162, 118)],
    [(166, 126), (170, 126), (170, 122), (164, 122), (164, 118)],
    [(166, 142), (172, 142), (172, 148), (168, 148), (168, 152), (164, 152)],
    [(172, 136), (166, 136), (166, 134)],
    [(166, 156), (170, 156), (170, 158), (165, 158), (165, 162), (160, 162), (160, 166), (155, 166)],
    [(148, 166), (152, 166), (152, 163), (157, 163), (157, 166)],
    [(137, 160), (137, 166), (142, 166), (142, 170), (140, 170), (140, 167), (146, 167)],
]

# ---- layout of the four panels, left/top/width/height in pixels ----
fig = plt.figure(figsize=(8.83, 6.89), dpi=100)


def make_ax(left, top, xlim, ylim, xticks, yticks, label):
    ax = fig.add_axes([left / 883, 1 - (top + 275) / 689, 383 / 883, 275 / 689])
    ax.set_xlim(xlim)
    ax.set_ylim(ylim)
    ax.set_xticks(xticks)
    ax.set_yticks(yticks)
    ax.tick_params(direction='in', length=3.5, width=0.7, top=True, right=True, labelsize=11.5, pad=4.5)
    for s in ax.spines.values():
        s.set_linewidth(0.9)
    ax.plot([], [], color='k', lw=0.8, label=label)
    leg = ax.legend(loc='upper right', bbox_to_anchor=(1 - 10 / 383, 1 - 3 / 275), frameon=False, fontsize=6.1, borderpad=0,
                    borderaxespad=0, handlelength=2.85, handletextpad=0.7, markerfirst=False)
    leg.set_zorder(1)
    return ax


def draw_paths(ax, paths, lw=0.85, **kw):
    for p in paths:
        xs = [q[0] for q in p]
        ys = [q[1] for q in p]
        ax.plot(xs, ys, color='k', lw=lw, solid_joinstyle='miter', zorder=4, **kw)


def draw_core(ax, col_x, col_lo, col_hi, row_y, row_lo, row_hi, hole_x, hole_y, hole_w):
    ax.vlines(col_x, col_lo, col_hi, color='k', lw=0.8, zorder=2)
    ax.hlines(row_y, row_lo, row_hi, color='k', lw=0.8, zorder=2)
    x0 = [x - hole_w / 2 for x in hole_x]
    x1 = [x + hole_w / 2 for x in hole_x]
    ax.hlines(hole_y, x0, x1, color='white', lw=2.6, zorder=3)


ax_a = make_ax(42, 15, (60, 200), (20, 160), a_xticks, a_yticks, a_label)
draw_core(ax_a, a_col_x, a_col_lo, a_col_hi, a_row_y, a_row_lo, a_row_hi, a_hole_x, a_hole_y, 3)
draw_paths(ax_a, a_paths)

ax_b = make_ax(482, 15, (0, 300), (0, 300), b_xticks, b_yticks, b_label)
draw_paths(ax_b, b_paths, lw=1.05, drawstyle='steps-post')

ax_c = make_ax(42, 356, (110, 180), (120, 170), c_xticks, c_yticks, c_label)
draw_paths(ax_c, c_paths)

ax_d = make_ax(482, 356, (100, 210), (80, 200), d_xticks, d_yticks, d_label)
draw_core(ax_d, d_col_x, d_col_lo, d_col_hi, d_row_y, d_row_lo, d_row_hi, d_hole_x, d_hole_y, 2.5)
draw_paths(ax_d, d_paths)

fig.text(40 / 883, 1 - 322 / 689, 'a)', family='cmr10', fontsize=14, va='center')
fig.text(483 / 883, 1 - 322 / 689, 'b)', family='cmr10', fontsize=14, va='center')
fig.text(42 / 883, 1 - 673 / 689, 'c)', family='cmr10', fontsize=14, va='center')
fig.text(481 / 883, 1 - 673 / 689, 'd)', family='cmr10', fontsize=14, va='center')

fig.savefig('out.png', dpi=100)
